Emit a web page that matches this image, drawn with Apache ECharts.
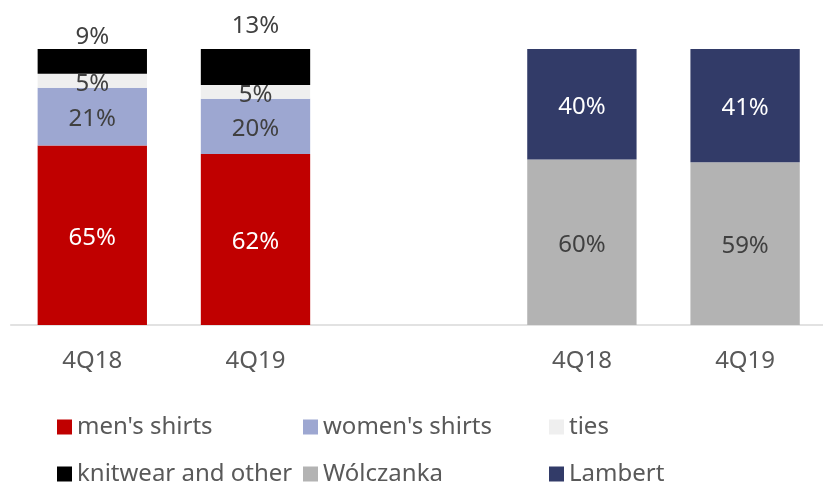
<!DOCTYPE html>
<html>
<head>
<meta charset="utf-8">
<script src="https://cdn.jsdelivr.net/npm/echarts@6/dist/echarts.min.js"></script>
<style>
  html, body { margin: 0; padding: 0; background: #ffffff; overflow: hidden; }
  #chart { width: 830px; height: 483px; }
</style>
</head>
<body>
<div id="chart"></div>
<script>
// Categories: two product groups separated by an empty slot
const categories = ['4Q18', '4Q19', '', '4Q18', '4Q19'];

// Shares of sales (%) per segment
const mensShirts   = [65, 62, null, null, null];
const womensShirts = [21, 20, null, null, null];
const ties         = [5, 5, null, null, null];
const knitwear     = [9, 13, null, null, null];
const wolczanka    = [null, null, null, 60, 59];
const lambert      = [null, null, null, 40, 41];

const seriesNames = ["men's shirts", "women's shirts", 'ties', 'knitwear and other', 'Wólczanka', 'Lambert'];
const seriesColors = ['#C00000', '#9DA7D1', '#EFEFEF', '#000000', '#B3B3B3', '#323B68'];

const FONT = '"Noto Sans", "Open Sans", sans-serif';
const pct = p => p.value == null ? '' : p.value + '%';

function labelStyle(color) {
  return {
    show: true,
    position: 'inside',
    offset: [0, 3],
    formatter: pct,
    color: color,
    fontSize: 24,
    fontFamily: FONT
  };
}

// Knitwear labels sit above the bar with individual offsets
const knitwearData = knitwear.map((v, i) => {
  if (v == null) return null;
  const dist = i === 0 ? 3 : 14;
  return { value: v, label: { position: 'top', distance: dist, color: '#404040' } };
});

const seriesData = [mensShirts, womensShirts, ties, knitwearData, wolczanka, lambert];
const labelColors = ['#ffffff', '#404040', '#404040', '#404040', '#404040', '#ffffff'];

const series = seriesNames.map((name, i) => ({
  name: name,
  type: 'bar',
  stack: 'share',
  barWidth: '67%',
  data: seriesData[i],
  itemStyle: { color: seriesColors[i] },
  label: labelStyle(labelColors[i]),
  emphasis: { disabled: true }
}));

// One legend per entry so the columns line up
const legendCols = [57, 303, 549];
const legendRows = [414, 461];
const legends = seriesNames.map((name, i) => ({
  data: [name],
  left: legendCols[i % 3],
  top: legendRows[Math.floor(i / 3)],
  padding: 0,
  icon: 'rect',
  itemWidth: 15,
  itemHeight: 15,
  itemGap: 0,
  selectedMode: false,
  textStyle: { fontSize: 24, lineHeight: 26, color: '#595959', fontFamily: FONT }
}));

const chart = echarts.init(document.getElementById('chart'), null, { renderer: 'canvas' });
chart.setOption({
  animation: false,
  backgroundColor: '#ffffff',
  legend: legends,
  grid: { left: 10.7, top: 49, width: 816, bottom: 158, containLabel: false },
  xAxis: {
    type: 'category',
    data: categories,
    axisLine: { lineStyle: { color: '#D9D9D9', width: 1.5 } },
    axisTick: { show: false },
    axisLabel: { fontSize: 24, color: '#595959', fontFamily: FONT, margin: 24 }
  },
  yAxis: {
    type: 'value',
    min: 0,
    max: 100,
    show: false,
    splitLine: { show: false }
  },
  series: series
});
</script>
</body>
</html>
